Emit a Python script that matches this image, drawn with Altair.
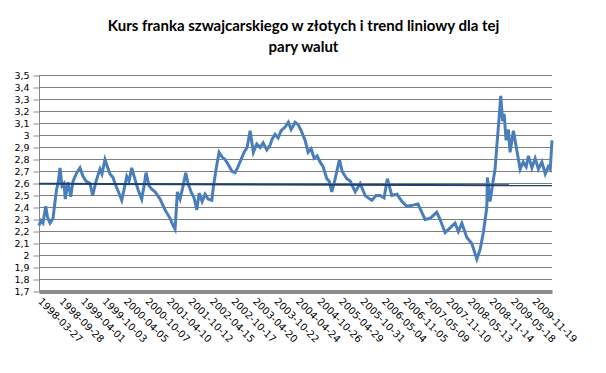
import altair as alt
import pandas as pd

dates = [
    "1998-03-27", "1998-04-13", "1998-04-30", "1998-05-24", "1998-06-08", "1998-06-30",
    "1998-07-26", "1998-08-12", "1998-08-25", "1998-09-07", "1998-09-24", "1998-10-11",
    "1998-10-28", "1998-11-08", "1998-12-02", "1998-12-25", "1999-01-14", "1999-02-15",
    "1999-03-15", "1999-04-10", "1999-05-06", "1999-06-09", "1999-07-02", "1999-07-31",
    "1999-09-03", "1999-09-20", "1999-10-16", "1999-11-02", "1999-11-28", "1999-12-24",
    "2000-01-10", "2000-02-05", "2000-03-08", "2000-03-28", "2000-04-20", "2000-05-10",
    "2000-06-02", "2000-07-01", "2000-07-26", "2000-08-27", "2000-09-16", "2000-10-03",
    "2000-10-29", "2000-11-24", "2000-12-20", "2001-02-01", "2001-03-16", "2001-04-28",
    "2001-05-19", "2001-06-10", "2001-06-30", "2001-07-23", "2001-08-18", "2001-09-10",
    "2001-09-30", "2001-10-26", "2001-11-21", "2001-12-14", "2002-01-03", "2002-01-29",
    "2002-02-23", "2002-03-21", "2002-04-22", "2002-05-07", "2002-05-29", "2002-06-24",
    "2002-07-20", "2002-08-14", "2002-09-09", "2002-10-14", "2002-11-09", "2002-12-04",
    "2002-12-30", "2003-01-25", "2003-02-20", "2003-03-18", "2003-04-15", "2003-05-14",
    "2003-06-12", "2003-07-08", "2003-08-08", "2003-09-06", "2003-09-23", "2003-10-19",
    "2003-11-14", "2003-12-10", "2004-01-13", "2004-02-10", "2004-03-05", "2004-04-08",
    "2004-05-04", "2004-05-30", "2004-07-03", "2004-07-29", "2004-08-24", "2004-09-19",
    "2004-10-15", "2004-11-09", "2004-12-05", "2005-01-06", "2005-01-26", "2005-02-18",
    "2005-03-19", "2005-04-25", "2005-05-18", "2005-06-27", "2005-07-26", "2005-09-07",
    "2005-10-20", "2005-12-02", "2005-12-28", "2006-01-29", "2006-03-06", "2006-04-09",
    "2006-05-14", "2006-06-11", "2006-07-19", "2006-09-02", "2006-10-15", "2006-11-25",
    "2007-01-18", "2007-03-02", "2007-05-02", "2007-06-14", "2007-08-10", "2007-09-08",
    "2007-10-21", "2007-12-03", "2008-01-15", "2008-02-12", "2008-03-13", "2008-04-25",
    "2008-06-07", "2008-07-20", "2008-08-17", "2008-09-14", "2008-10-14", "2008-10-19",
    "2008-11-11", "2008-12-07", "2008-12-24", "2009-01-08", "2009-01-28", "2009-02-11",
    "2009-02-27", "2009-03-12", "2009-03-29", "2009-04-18", "2009-05-02", "2009-05-31",
    "2009-06-29", "2009-07-28", "2009-08-23", "2009-09-18", "2009-10-07", "2009-11-06",
    "2009-12-04", "2010-01-01", "2010-01-31", "2010-03-01", "2010-03-27", "2010-04-13",
    "2010-04-28",
]
values = [
    2.25, 2.29, 2.27, 2.41, 2.32, 2.27,
    2.31, 2.45, 2.55, 2.60, 2.73, 2.58,
    2.60, 2.47, 2.61, 2.49, 2.62, 2.69,
    2.73, 2.66, 2.62, 2.60, 2.50, 2.62,
    2.72, 2.68, 2.80, 2.75, 2.68, 2.65,
    2.60, 2.54, 2.46, 2.55, 2.66, 2.62,
    2.73, 2.63, 2.55, 2.47, 2.58, 2.69,
    2.58, 2.55, 2.53, 2.47, 2.38, 2.31,
    2.26, 2.22, 2.53, 2.47, 2.58, 2.69,
    2.60, 2.53, 2.48, 2.38, 2.52, 2.45,
    2.51, 2.47, 2.46, 2.58, 2.72, 2.86,
    2.82, 2.80, 2.76, 2.70, 2.69, 2.74,
    2.80, 2.86, 2.90, 3.04, 2.86, 2.93,
    2.90, 2.94, 2.88, 2.92, 2.97, 3.01,
    2.98, 3.04, 3.07, 3.11, 3.05, 3.11,
    3.09, 3.04, 2.96, 2.86, 2.89, 2.81,
    2.83, 2.78, 2.74, 2.64, 2.62, 2.53,
    2.64, 2.80, 2.70, 2.64, 2.62, 2.53,
    2.60, 2.50, 2.48, 2.46, 2.50, 2.50,
    2.48, 2.64, 2.50, 2.51, 2.45, 2.41,
    2.42, 2.43, 2.30, 2.31, 2.36, 2.30,
    2.19, 2.23, 2.27, 2.20, 2.27, 2.15,
    2.10, 1.97, 2.05, 2.19, 2.40, 2.65,
    2.45, 2.62, 2.72, 2.91, 3.15, 3.33,
    3.12, 3.18, 2.96, 3.05, 2.86, 3.04,
    2.88, 2.72, 2.78, 2.74, 2.83, 2.73,
    2.81, 2.72, 2.78, 2.68, 2.74, 2.72,
    2.96,
]

trend_dates = ["1998-03-27", "2010-04-28"]
trend_values = [2.598, 2.585]

tick_dates = [
    "1998-03-27", "1998-09-28", "1999-04-01", "1999-10-03", "2000-04-05", "2000-10-07",
    "2001-04-10", "2001-10-12", "2002-04-15", "2002-10-17", "2003-04-20", "2003-10-22",
    "2004-04-24", "2004-10-26", "2005-04-29", "2005-10-31", "2006-05-04", "2006-11-05",
    "2007-05-09", "2007-11-10", "2008-05-13", "2008-11-14", "2009-05-18", "2009-11-19",
]
y_ticks = [1.7, 1.8, 1.9, 2.0, 2.1, 2.2, 2.3, 2.4, 2.5, 2.6, 2.7, 2.8, 2.9,
           3.0, 3.1, 3.2, 3.3, 3.4, 3.5]

title_lines = ["Kurs franka szwajcarskiego w złotych i trend liniowy dla tej", "pary walut"]


def ms(s):
    return int(pd.Timestamp(s, tz="UTC").value // 10**6)


df = pd.DataFrame({"date": dates, "kurs": values})
tr = pd.DataFrame({"date": trend_dates, "kurs": trend_values})
grid_df = pd.DataFrame({"kurs": y_ticks[1:]})

x_scale = alt.Scale(domain=[ms(dates[0]), ms(dates[-1])])
y_scale = alt.Scale(domain=[1.7, 3.5], nice=False, zero=False)


def x_axis():
    return alt.Axis(
        values=[ms(d) for d in tick_dates],
        labelExpr="utcFormat(datum.value, '%Y-%m-%d')",
        labelAngle=45, labelAlign="left", labelBaseline="middle",
        labelFont="DejaVu Sans", labelFontSize=10, labelColor="#000000",
        labelPadding=8, ticks=False, grid=False,
        domainColor="#8c8c8c", domainWidth=4, title=None, labelOverlap=False,
        labelBound=False, labelFlush=False,
    )


def y_axis():
    return alt.Axis(
        values=y_ticks,
        labelExpr="replace(format(datum.value, '.1~f'), '.', ',')",
        labelFont="DejaVu Sans", labelFontSize=9.5, labelColor="#000000",
        tickSize=6, tickColor="#868686", labelPadding=4,
        domainColor="#868686", domainWidth=1,
        grid=False, title=None,
        labelOverlap=False, labelBound=False, labelFlush=False,
    )


grid = alt.Chart(grid_df).mark_rule(color="#808080", strokeWidth=1).encode(
    y=alt.Y("kurs:Q", scale=y_scale, axis=y_axis()),
)
line = alt.Chart(df).mark_line(color="#4A7EBB", strokeWidth=3).encode(
    x=alt.X("date:T", scale=x_scale, axis=x_axis()),
    y=alt.Y("kurs:Q", scale=y_scale, axis=y_axis()),
)
trend = alt.Chart(tr).mark_line(color="#1F3F6E", strokeWidth=2).encode(
    x=alt.X("date:T", scale=x_scale, axis=x_axis()),
    y=alt.Y("kurs:Q", scale=y_scale, axis=y_axis()),
)

chart = alt.layer(grid, line, trend).properties(
    width=513, height=216,
    autosize=alt.AutoSizeParams(type="none"),
    padding={"left": 31, "top": 67.5, "right": 40, "bottom": 60},
    title=alt.TitleParams(
        title_lines, font="Lato", fontSize=15, fontWeight="bold", color="#000000",
        anchor="middle", dx=8, offset=16, lineHeight=21,
    ),
).configure_view(stroke=None).configure_axis(labelOverlap=False)

chart.save("out.html", embed_options={"renderer": "svg", "actions": False})
